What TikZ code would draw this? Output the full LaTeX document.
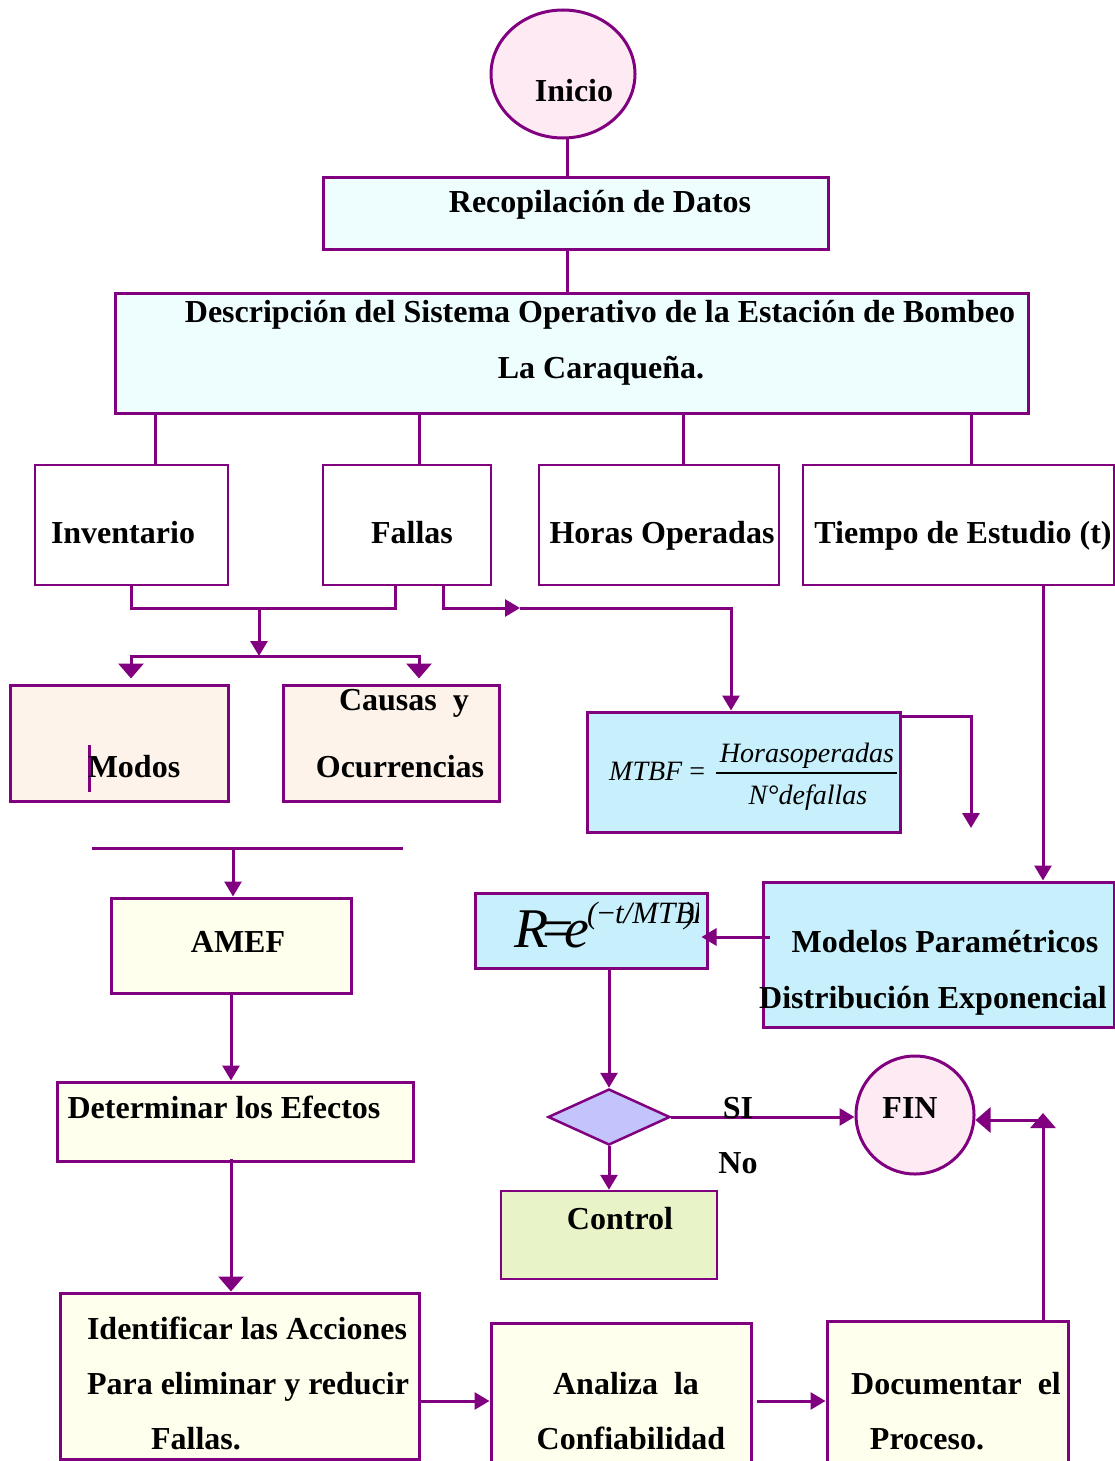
\documentclass[tikz,border=0pt]{standalone}
\usepackage{fontspec}
\setmainfont{Liberation Serif}
\usetikzlibrary{shapes.geometric,arrows.meta}
\definecolor{pp}{HTML}{800080}
\definecolor{pinkA}{HTML}{FDEAF3}
\definecolor{cyanA}{HTML}{EEFEFF}
\definecolor{peach}{HTML}{FDF3EA}
\definecolor{cyanB}{HTML}{C8F0FC}
\definecolor{yellA}{HTML}{FFFFEE}
\definecolor{greenA}{HTML}{E8F4C8}
\definecolor{lav}{HTML}{C4C4FC}
\begin{document}
\begin{tikzpicture}[x=1pt,y=-1pt,
  box/.style={draw=pp, line width=3pt, rectangle, inner sep=0pt},
  wbox/.style={draw=pp, line width=2pt, fill=white, rectangle, inner sep=0pt},
  con/.style={draw=pp, line width=3pt},
  arr/.style={con, -{Triangle[width=17pt,length=15pt]}},
  arrw/.style={con, -{Triangle[width=25pt,length=15pt]}},
  txt/.style={font=\fontsize{32}{36}\selectfont\bfseries, anchor=base, inner sep=0pt},
  fx/.style={font=\fontsize{28}{32}\selectfont\itshape, inner sep=0pt}]
\useasboundingbox (0,0) rectangle (1115,1461);

% ---------- shapes ----------
\node[box, ellipse, fill=pinkA, minimum width=144pt, minimum height=128pt] (inicio) at (563,74) {};
\node[box, fill=cyanA, minimum width=505pt, minimum height=72pt] (rec) at (575.5,213) {};
\node[box, fill=cyanA, minimum width=913pt, minimum height=120pt] (desc) at (571.5,353) {};
\node[wbox, minimum width=193pt, minimum height=120pt] (inv) at (131.5,525) {};
\node[wbox, minimum width=168pt, minimum height=120pt] (fal) at (407,525) {};
\node[wbox, minimum width=240pt, minimum height=120pt] (hor) at (659,525) {};
\node[wbox, minimum width=311pt, minimum height=120pt] (tie) at (958.5,525) {};
\node[box, fill=peach, minimum width=218pt, minimum height=116pt] (mod) at (119,743) {};
\node[box, fill=peach, minimum width=216pt, minimum height=116pt] (cau) at (391,743) {};
\node[box, fill=cyanB, minimum width=313pt, minimum height=120pt] (mtbf) at (743.5,772) {};
\node[box, fill=yellA, minimum width=240pt, minimum height=95pt] (amef) at (231,945.5) {};
\node[box, fill=cyanB, minimum width=232pt, minimum height=75pt] (rbox) at (591,930.5) {};
\node[box, fill=cyanB, minimum width=351pt, minimum height=145pt] (modelos) at (938.5,954.5) {};
\node[box, fill=yellA, minimum width=356pt, minimum height=79pt] (det) at (235,1121.5) {};
\node[box, diamond, fill=lav, line width=2.5pt, minimum width=122pt, minimum height=56pt] (dia) at (609,1117) {};
\node[box, circle, fill=pinkA, minimum size=118pt] (fin) at (915,1115) {};
\node[box, fill=greenA, line width=2.5pt, minimum width=216pt, minimum height=88pt] (control) at (609,1235) {};
\node[box, fill=yellA, minimum width=359pt, minimum height=166pt] (ident) at (239.5,1376) {};
\node[box, fill=yellA, minimum width=260pt, minimum height=142pt] (anal) at (621,1394) {};
\node[box, fill=yellA, minimum width=241pt, minimum height=144pt] (doc) at (947.5,1393) {};

% ---------- guide coordinates ----------
\coordinate (xa) at (567,0);
\coordinate (x155) at (155,0);
\coordinate (x419) at (419,0);
\coordinate (x683) at (683,0);
\coordinate (x971) at (971,0);
\coordinate (x131) at (131,0);
\coordinate (x395) at (395,0);
\coordinate (x443) at (443,0);
\coordinate (x731) at (731,0);
\coordinate (x1043) at (1043,0);
\coordinate (x233) at (233,0);
\coordinate (x231) at (231,0);
\coordinate (y1401) at (0,1401);
\coordinate (y937) at (0,937);
\coordinate (j1) at (259,608);
\coordinate (j2) at (259,656);
\coordinate (j3) at (520,608);
\coordinate (c971) at (971,828);
\coordinate (h1) at (92,848);
\coordinate (h2) at (403,848);
\coordinate (k) at (1043,1120);
\coordinate (kt) at (1043,1113);

% ---------- connectors ----------
\draw[con] (inicio.south -| xa) -- (rec.north -| xa);
\draw[con] (rec.south -| xa) -- (desc.north -| xa);
\draw[con] (desc.south -| x155) -- (inv.north -| x155);
\draw[con] (desc.south -| x419) -- (fal.north -| x419);
\draw[con] (desc.south -| x683) -- (hor.north -| x683);
\draw[con] (desc.south -| x971) -- (tie.north -| x971);
\draw[con] (inv.south -| x131) |- (j1) -| (fal.south -| x395);
\draw[arr] (j1) -- (j2);
\draw[arrw] (j2) -| ([yshift=5pt]mod.north -| x131);
\draw[arrw] (j2) -| ([yshift=5pt]cau.north -| x419);
\draw[arr] (fal.south -| x443) |- (j3);
\draw[arr] (j3) -| (mtbf.north -| x731);
\draw[arr] ([yshift=-6pt]mtbf.north east) -| (c971);
\draw[con] (h1) -- (h2);
\draw[arr] (h1 -| x233) -- (amef.north -| x233);
\draw[arr] (amef.south -| x231) -- (det.north -| x231);
\draw[arrw] ([yshift=4pt]det.south -| x231) -- (ident.north -| x231);
\draw[arr] (ident.east |- y1401) -- (anal.west |- y1401);
\draw[arr] ([xshift=4pt]anal.east |- y1401) -- (doc.west |- y1401);
\draw[con] (doc.north -| k) -- (k);
\draw[arrw] (k) -- (kt);
\draw[arrw] (k) -- (fin.east |- k);
\draw[arr] (tie.south -| x1043) -- (modelos.north -| x1043);
\draw[arr] ([xshift=8pt]modelos.west |- y937) -- ([xshift=-7pt]rbox.east |- y937);
\draw[arr] (rbox.south -| dia.north) -- (dia.north);
\draw[arr] (dia.east) -- (fin.west |- dia.east);
\draw[arr] (dia.south) -- (control.north -| dia.south);

% cursor bar in Modos box
\draw[con] (89,745) -- (89,792);

% ---------- texts ----------
\node[txt] (t1) at (574,102) {Inicio};
\node[txt] (t2) at (600,212) {Recopilación de Datos};
\node[txt] (t3) at (600,322) {Descripción del Sistema Operativo de la Estación de Bombeo};
\node[txt] (t4) at (601,378) {La Caraqueña.};
\node[txt] (t5) at (123,543) {Inventario};
\node[txt] (t6) at (412,543) {Fallas};
\node[txt] (t7) at (662,543) {Horas Operadas};
\node[txt] (t8) at (963,543) {Tiempo de Estudio (t)};
\node[txt] (t9) at (404,710) {Causas~~y};
\node[txt] (t10) at (134,777) {Modos};
\node[txt] (t11) at (400,777) {Ocurrencias};
\node[txt] (t12) at (238,952) {AMEF};
\node[txt] (t13) at (945,952) {Modelos Paramétricos};
\node[txt] (t14) at (933,1008) {Distribución Exponencial};
\node[txt] (t15) at (224,1118) {Determinar los Efectos};
\node[txt] (t16) at (738,1118) {SI};
\node[txt] (t17) at (910,1118) {FIN};
\node[txt] (t18) at (738,1173) {No};
\node[txt] (t19) at (620,1229) {Control};
\node[txt] (t20) at (247,1339) {Identificar las Acciones};
\node[txt] (t21) at (248,1394) {Para eliminar y reducir};
\node[txt] (t22) at (196,1449) {Fallas.};
\node[txt] (t23) at (626,1394) {Analiza~~la};
\node[txt] (t24) at (631,1449) {Confiabilidad};
\node[txt] (t25) at (956,1394) {Documentar~~el};
\node[txt] (t26) at (927,1449) {Proceso.};

% MTBF formula
\node[fx, anchor=base west] (f1) at (609,780) {MTBF \upshape =};
\node[fx, anchor=base] (f2) at (807,762) {Horasoperadas};
\node[fx, anchor=base] (f3) at (808,804) {N°defallas};
\draw[line width=1.2pt] (716,773) -- (897,773);

% R formula
\node[fx, anchor=base west, font=\fontsize{56}{60}\selectfont\itshape] (r1) at (514,947) {R\kern-6pt\upshape=\kern-9pt\itshape e};
\begin{scope}
\clip (587,895) rectangle (698,966);
\node[fx, anchor=base west, font=\fontsize{31}{34}\selectfont\itshape] (r2) at (587,923) {(\upshape−\itshape t/MTB\kern-10pt)\kern-2pt F)};
\end{scope}
\end{tikzpicture}
\end{document}
